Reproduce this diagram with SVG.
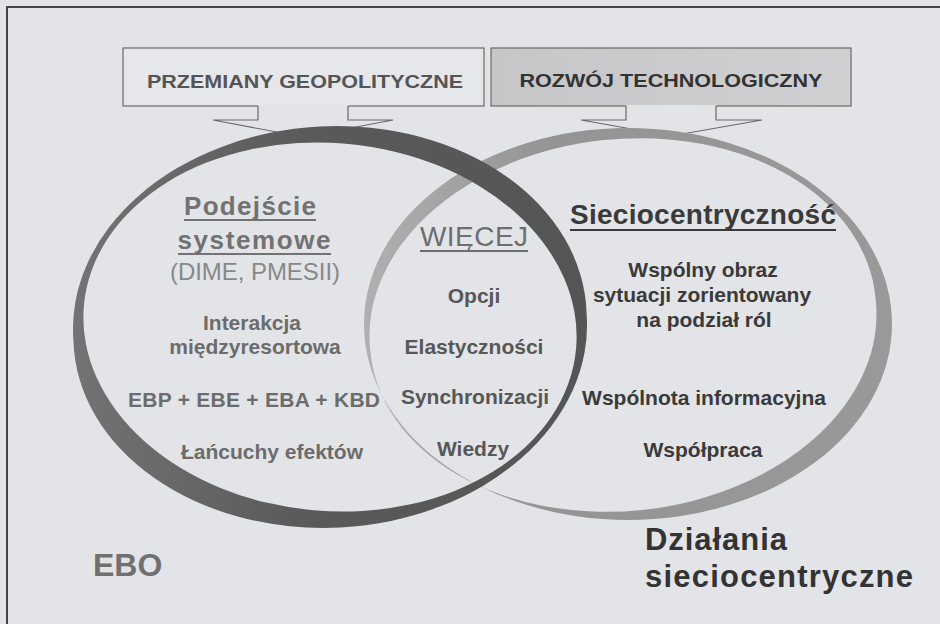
<svg xmlns="http://www.w3.org/2000/svg" width="940" height="624" viewBox="0 0 940 624">
<defs>
<style>
text { font-family: "Liberation Sans", Arial, sans-serif; }
.box { stroke: #6a6a6a; stroke-width: 1.2; }
.arrowfill { fill: #e3e4e8; stroke: none; }
.arrowline { fill: none; stroke: #6a6a6a; stroke-width: 1.2; }
.hdr { font-size: 19px; font-weight: bold; text-anchor: middle; }
.b21 { font-size: 21px; font-weight: bold; text-anchor: middle; }
.c-ebo { fill: #6c6c6c; }
.c-mid { fill: #575757; }
.c-ncw { fill: #3a3a3a; }
.ul { stroke-width: 2; }
</style>
<linearGradient id="gL" x1="0" y1="0" x2="1" y2="0">
<stop offset="0" stop-color="#737373"/>
<stop offset="0.45" stop-color="#5a5a5a"/>
<stop offset="1" stop-color="#555555"/>
</linearGradient>
<linearGradient id="gR" x1="0" y1="0" x2="1" y2="0">
<stop offset="0" stop-color="#b0b0b0"/>
<stop offset="0.35" stop-color="#949494"/>
<stop offset="1" stop-color="#999999"/>
</linearGradient>
<linearGradient id="gBox" x1="0" y1="0" x2="1" y2="0">
<stop offset="0" stop-color="#c6c6c9"/>
<stop offset="1" stop-color="#d0d0d3"/>
</linearGradient>
</defs>

<rect x="0" y="0" width="940" height="624" fill="#e3e4e8"/>
<rect x="7" y="7" width="1000" height="1000" fill="none" stroke="#454545" stroke-width="2"/>

<g id="box-geopolitics">
<rect class="box" x="123" y="48" width="361" height="58" fill="#e6e7ea"/>
<text class="hdr" x="305" y="88" fill="#555" textLength="316" lengthAdjust="spacingAndGlyphs">PRZEMIANY GEOPOLITYCZNE</text>
</g>

<g id="box-technology">
<rect class="box" x="491" y="48" width="360" height="58" fill="url(#gBox)"/>
<text class="hdr" x="671" y="87" fill="#333" textLength="303" lengthAdjust="spacingAndGlyphs">ROZWÓJ TECHNOLOGICZNY</text>
</g>

<g id="connectors">
<path class="arrowfill" d="M258,105 H348 V120 H393 L303,137 L213,120 H258 Z"/>
<path class="arrowline" d="M258,106 V120 H213 L303,137 L393,120 H348 V106"/>
<path class="arrowfill" d="M626,105 H716 V120 H762 L671,136 L581,120 H626 Z"/>
<path class="arrowline" d="M626,106 V120 H581 L671,136 L762,120 H716 V106"/>
</g>

<g id="ring-ncw">
<path fill="url(#gR)" fill-rule="evenodd" d="M364,324 A264,196 0 1,0 892,324 A264,196 0 1,0 364,324 Z M875.6,298.5 A254,184 -6 1,0 370.4,351.5 A254,184 -6 1,0 875.6,298.5 Z"/>
</g>

<g id="ring-ebo">
<path fill="url(#gL)" fill-rule="evenodd" d="M586.6,313.5 A257,197 -3 1,0 73.4,340.5 A257,197 -3 1,0 586.6,313.5 Z M576.1,348.5 A247,184 5 1,0 83.9,305.5 A247,184 5 1,0 576.1,348.5 Z"/>
</g>

<g id="ebo-content">
<text x="250" y="215" fill="#727272" font-size="26" font-weight="bold" text-anchor="middle" textLength="132">Podejście</text>
<line class="ul" x1="184" y1="220" x2="316" y2="220" stroke="#727272"/>
<text x="254" y="249" fill="#727272" font-size="26" font-weight="bold" text-anchor="middle" textLength="153">systemowe</text>
<line class="ul" x1="178" y1="254" x2="331" y2="254" stroke="#727272"/>
<text x="255" y="280" fill="#888" font-size="24" text-anchor="middle" textLength="170">(DIME, PMESII)</text>
<text class="b21 c-ebo" x="252" y="330">Interakcja</text>
<text class="b21 c-ebo" x="255" y="354">międzyresortowa</text>
<text class="b21 c-ebo" x="254" y="407" textLength="252">EBP + EBE + EBA + KBD</text>
<text class="b21 c-ebo" x="272" y="459">Łańcuchy efektów</text>
</g>

<g id="overlap-content">
<text x="474" y="246" fill="#6e6e6e" font-size="28" text-anchor="middle" textLength="108">WIĘCEJ</text>
<line class="ul" x1="420" y1="251" x2="528" y2="251" stroke="#6e6e6e"/>
<text class="b21 c-mid" x="474" y="303">Opcji</text>
<text class="b21 c-mid" x="474" y="354">Elastyczności</text>
<text class="b21 c-mid" x="475" y="404">Synchronizacji</text>
<text class="b21 c-mid" x="473" y="456">Wiedzy</text>
</g>

<g id="ncw-content">
<text x="703" y="224" fill="#3a3a3a" font-size="28" font-weight="bold" text-anchor="middle" textLength="266">Sieciocentryczność</text>
<line class="ul" x1="570" y1="230" x2="836" y2="230" stroke="#3a3a3a"/>
<text class="b21 c-ncw" x="703" y="277">Wspólny obraz</text>
<text class="b21 c-ncw" x="702" y="302">sytuacji zorientowany</text>
<text class="b21 c-ncw" x="704" y="327">na podział ról</text>
<text class="b21 c-ncw" x="704" y="405">Wspólnota informacyjna</text>
<text class="b21 c-ncw" x="703" y="457">Współpraca</text>
</g>

<g id="labels">
<text x="93" y="576" fill="#707070" font-size="32" font-weight="bold">EBO</text>
<text x="645" y="550" fill="#333" font-size="31" font-weight="bold" textLength="142">Działania</text>
<text x="645" y="587" fill="#333" font-size="31" font-weight="bold" textLength="268">sieciocentryczne</text>
</g>
</svg>
